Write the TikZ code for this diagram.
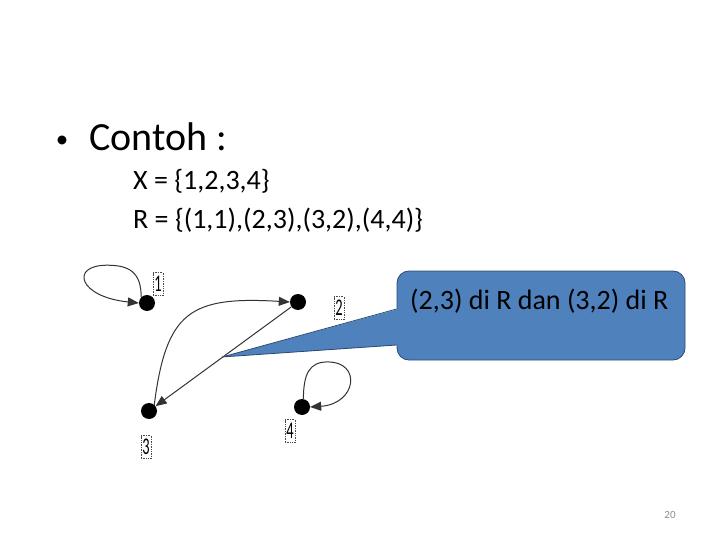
\documentclass[tikz,border=0pt]{standalone}
\usepackage{fontspec}
\setmainfont{Carlito}
\usetikzlibrary{arrows.meta}
\definecolor{calloutfill}{HTML}{4F81BD}
\definecolor{calloutline}{HTML}{2C4A72}
\definecolor{pagegray}{HTML}{8C8C8C}
\newcommand{\narrowdigit}[1]{\scalebox{0.6}[1]{\fontsize{24}{24}\selectfont #1}}
\begin{document}
\begin{tikzpicture}[x=1pt,y=-1pt,
  dot/.style={circle,fill=black,minimum size=16pt,inner sep=0pt},
  arr/.style={line width=1pt,draw=black!80,-{Triangle[length=11pt,width=9pt]}},
  numlabel/.style={draw=black!70,densely dotted,line width=0.7pt,inner sep=0pt,minimum width=10pt,minimum height=23pt},
  bigtext/.style={anchor=base west,inner sep=0pt,font=\fontsize{40}{46}\selectfont},
  subtext/.style={anchor=base west,inner sep=0pt,font=\fontsize{28}{32}\selectfont},
  cbox/.style={fill=calloutfill,draw=calloutline,line width=0.8pt,rounded corners=12pt,minimum width=288pt,minimum height=89pt,inner sep=0pt}
]
\useasboundingbox (0,0) rectangle (720,540);

% title text
\node[anchor=base,inner sep=0pt,font=\fontsize{25}{30}\selectfont] (bul) at (62,148) {•};
\node[bigtext] (contoh) at (89,151) {Contoh :};
\node[subtext] (xset) at (133,190) {X = \{1,2,3,4\}};
\node[subtext] (rset) at (133,229) {R = \{(1,1),(2,3),(3,2),(4,4)\}};

% dots
\node[dot] (n1) at (147,303) {};
\node[dot] (n2) at (298,302) {};
\node[dot] (n3) at (149,411) {};
\node[dot] (n4) at (302,407) {};

% labels
\node[numlabel] (l1) at (158,284) {\narrowdigit{1}};
\node[numlabel] (l2) at (339,308) {\narrowdigit{2}};
\node[numlabel] (l3) at (146,447) {\narrowdigit{3}};
\node[numlabel] (l4) at (290,431) {\narrowdigit{4}};

% edges
\draw[arr] (n1.135) .. controls +(0,-25) and +(22,0) .. ++(-34,-32)
  .. controls +(-38,0) and +(-60,-6) .. (n1.180);
\draw[arr] (n4.80) .. controls +(0,-25) and +(-18,0) .. ++(24,-37)
  .. controls +(35,0) and +(46,-3) .. (n4.east);
\draw[arr] (n2) -- (n3);
\draw[arr] (n3.50) .. controls +(12,-93) and +(-100,-6) .. (n2.west);

% callout
\node[cbox] (cb) at (541,315.5) {};
\coordinate (tip) at (222,357);
\coordinate (pa) at ([yshift=6.5pt]cb.west);
\coordinate (pb) at ([yshift=-29.5pt]cb.west);
\fill[calloutfill] ([xshift=2pt]pa) -- (tip) -- ([xshift=2pt]pb) -- cycle;
\draw[calloutline,line width=0.8pt,line join=round] (pa) -- (tip) -- (pb);
\node[subtext] (ctext) at (410,309) {(2,3) di R dan (3,2) di R};

% page number
\node[inner sep=0pt,text=pagegray,font=\fontsize{11}{13}\selectfont] (pg) at (670,515) {20};
\end{tikzpicture}
\end{document}
